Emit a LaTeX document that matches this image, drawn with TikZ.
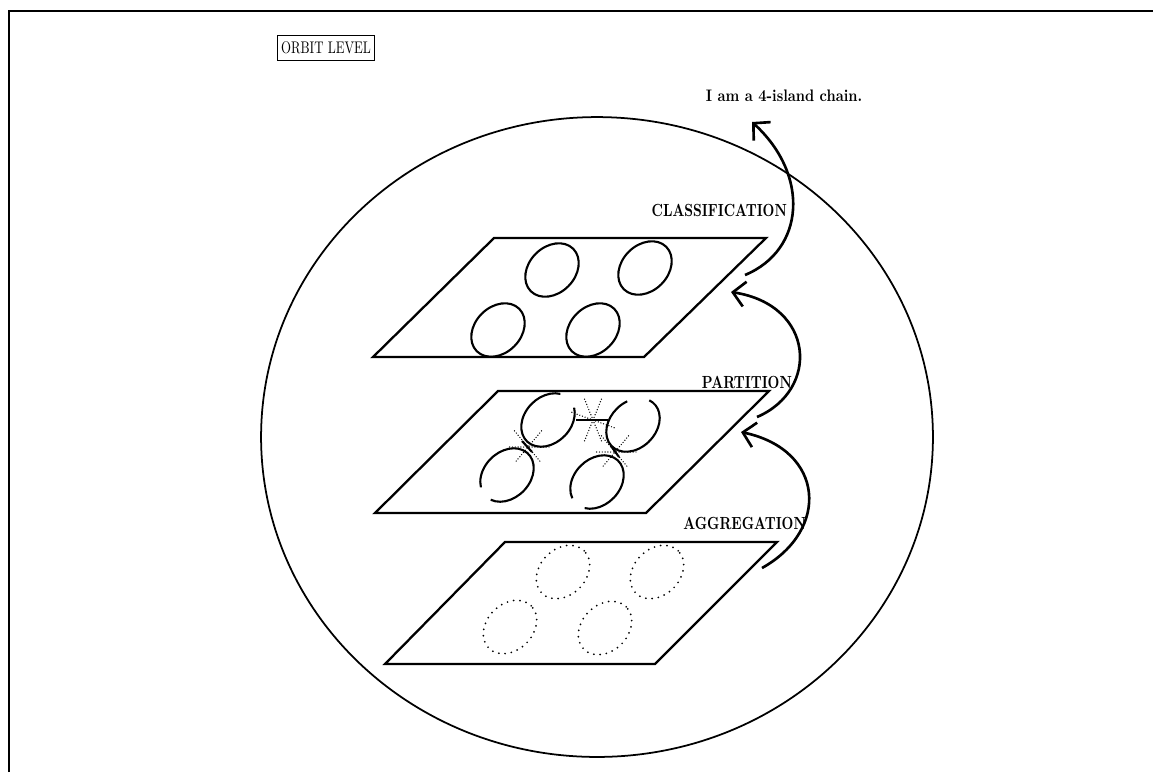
\documentclass[tikz,border=0pt]{standalone}
\usepackage{graphicx}
\usepackage{tikz}
\usetikzlibrary{arrows.meta,positioning,calc}

% narrow caps for the labels
\newcommand{\narrow}[2]{\scalebox{#1}[1]{#2}}

\begin{document}
\begin{tikzpicture}[
  x=0.02cm,y=-0.02cm,
  frame/.style={line width=1.4pt},
  plane/.style={line width=1.3pt,line join=miter},
  isle/.style={line width=1.2pt},
  ghost/.style={line width=1.1pt,line cap=round,dash pattern=on 0pt off 3.6pt},
  link/.style={line width=0.8pt,line cap=round,dash pattern=on 0pt off 1.6pt},
  lift/.style={line width=1.5pt,-{Straight Barb[length=2.4mm,width=5mm,line width=1.5pt]}},
  stage/.style={font=\fontsize{10}{12}\selectfont\bfseries,inner sep=1pt}
]
  \useasboundingbox (0,0) rectangle (1158,772);
  % outer frame, open at the bottom
  \draw[frame] (9,772) |- (1153,11);
  \node[draw,line width=0.7pt,inner xsep=2pt,inner ysep=3.5pt,
    font=\fontsize{9.6}{11}\selectfont] (orbit) at (326,48) {\narrow{0.76}{ORBIT LEVEL}};

  % the orbit
  \draw[line width=1pt] (597,437) ellipse[x radius=6.72cm,y radius=6.4cm];

  % Aggregation plane (dotted islands)
  \draw[plane] (505,542) -- (777,542) -- (655,664) -- (385,664) -- cycle;
  \foreach \x/\y in {563/572,657/572,510/627,605/628}
    \draw[ghost,rotate around={45:(\x,\y)}] (\x,\y) ellipse[x radius=0.6cm,y radius=0.46cm];

  % Partition plane (broken islands and links)
  \draw[plane] (498,391) -- (769,391) -- (646,513) -- (375,513) -- cycle;
  \foreach \x/\y/\s/\e in {548/420/25/335,633/425/65/375,507/475/195/515,597/482/205/525}
    \draw[isle,rotate around={45:(\x,\y)}] (\x,\y) ++(\s:0.6cm and 0.46cm)
      arc[start angle=\s,end angle=\e,x radius=0.6cm,y radius=0.46cm];
  \draw[isle] (576,420) -- (608,420);
  \draw[isle] (522,441) -- (532,452);
  \draw[isle] (611,446) -- (619,457);
  \foreach \a in {68,112,160}
    \draw[link] (593,420) ++(\a:0.45cm) -- ++(\a+180:0.9cm);
  \foreach \x/\y in {528/447,615/452}
    \foreach \a in {0,50,130}
      \draw[link] (\x,\y) ++(\a:0.42cm) -- ++(\a+180:0.84cm);

  % Classification plane (closed islands)
  \draw[plane] (494,238) -- (766,238) -- (644,357) -- (373,357) -- cycle;
  \foreach \x/\y in {552/270,645/268,498/330,593/330}
    \draw[isle,rotate around={45:(\x,\y)}] (\x,\y) ellipse[x radius=0.6cm,y radius=0.46cm];

  % stage labels
  \node[stage,anchor=east] (agg) at (808,523) {\narrow{0.78}{AGGREGATION}};
  \node[stage,anchor=east] (part) at (794,382) {\narrow{0.78}{PARTITION}};
  \node[stage,anchor=east] (cls) at (789,210) {\narrow{0.78}{CLASSIFICATION}};
  \node[stage,anchor=base,font=\fontsize{9.5}{11}\selectfont\bfseries] (chain) at (784,101)
    {\narrow{0.86}{I am a 4-island chain.}};

  % arrows between the levels
  \coordinate (agg-s) at (762,568);
  \coordinate (agg-t) at (741,432);
  \coordinate (part-s) at (757,417);
  \coordinate (part-t) at (731,292);
  \coordinate (cls-s) at (745,275);
  \coordinate (cls-t) at (752,122);
  \draw[lift] (agg-s) .. controls (830,530) and (825,450) .. (agg-t);
  \draw[lift] (part-s) .. controls (820,390) and (815,305) .. (part-t);
  \draw[lift] (cls-s) .. controls (805,250) and (810,175) .. (cls-t);
\end{tikzpicture}
\end{document}
